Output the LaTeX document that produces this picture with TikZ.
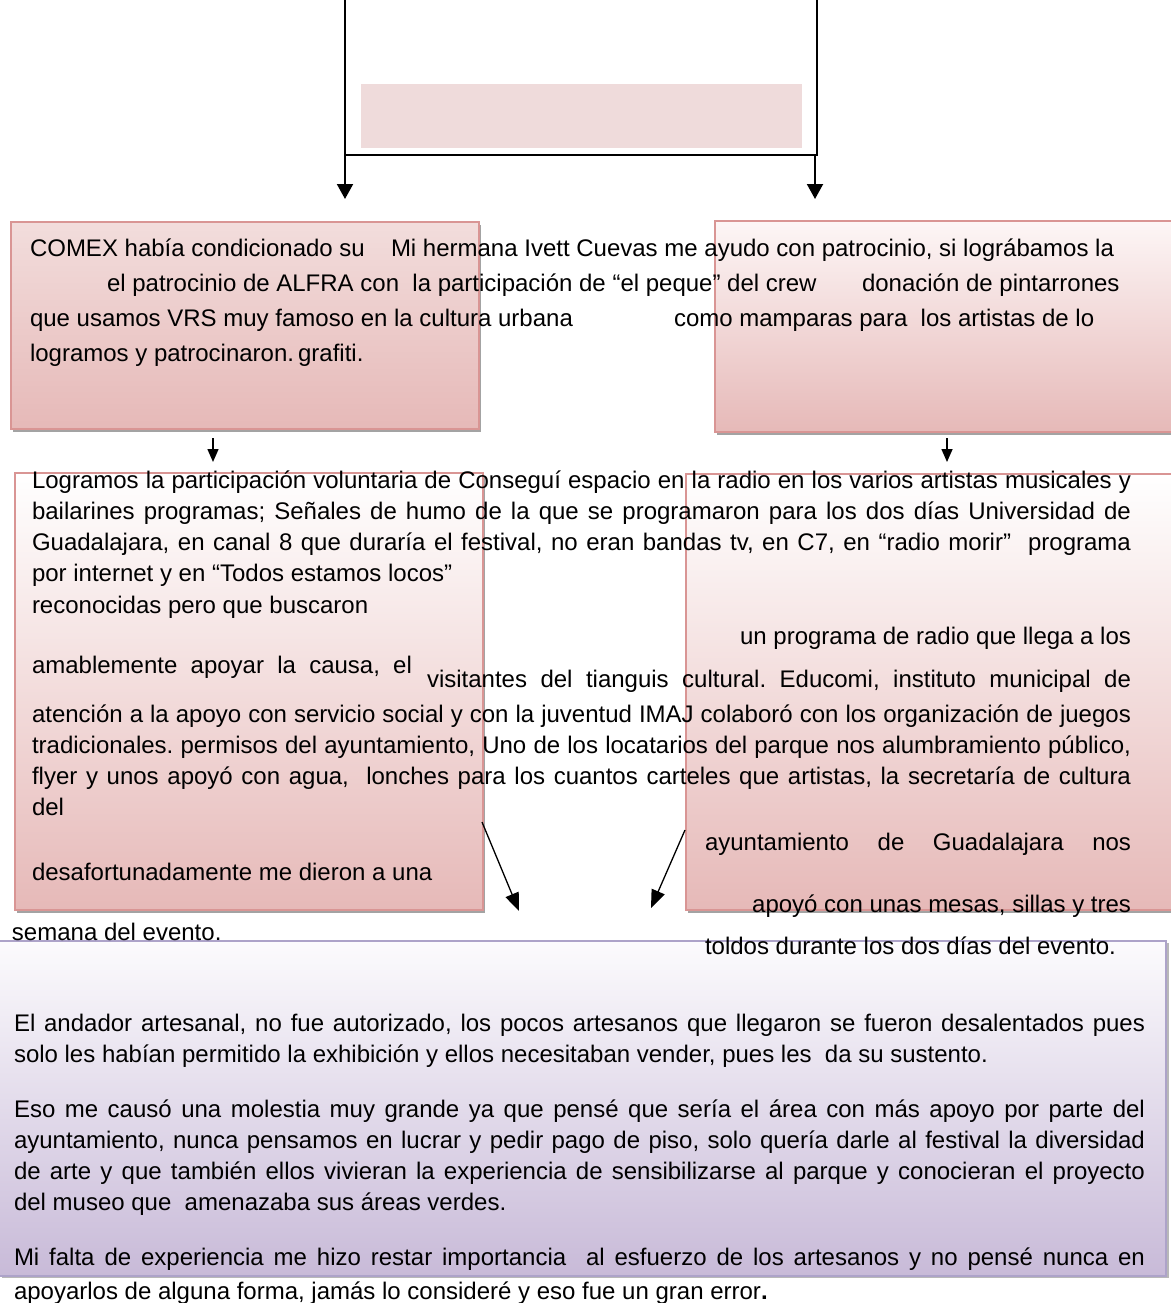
\documentclass[tikz,border=0pt]{standalone}
\usepackage{fontspec}
\setmainfont{Liberation Sans}
\usetikzlibrary{arrows.meta,shadows}
\definecolor{pinkborder}{HTML}{D99594}
\definecolor{pinktop}{HTML}{F2DDDC}
\definecolor{pinkbot}{HTML}{E6B9B8}
\definecolor{pinkpale}{HTML}{FDF6F6}
\definecolor{lavtop}{HTML}{FCFBFD}
\definecolor{lavbot}{HTML}{C8BAD8}
\definecolor{lavborder}{HTML}{ADA3C9}
\definecolor{topfill}{HTML}{EFDBDB}
\frenchspacing
\tikzset{
  txt/.style={inner sep=0pt,outer sep=0pt,anchor=base west,font=\fontsize{24}{29}\selectfont},
  txtr/.style={txt,anchor=base east},
  pinkbox/.style={draw=pinkborder,line width=2pt,bottom color=pinkbot,
    drop shadow={shadow xshift=2pt,shadow yshift=-3pt,fill=black!45,opacity=0.8}},
  lavbox/.style={draw=lavborder,line width=2pt,top color=lavtop,bottom color=lavbot,
    drop shadow={shadow xshift=3pt,shadow yshift=-2pt,fill=black!35,opacity=0.8}},
  conn/.style={line width=2pt,-{Triangle[width=16pt,length=15pt]}},
  line/.style={line width=2pt},
  small/.style={line width=1.5pt,-{Triangle[width=11pt,length=13pt]}},
  diag/.style={line width=1.3pt,-{Triangle[width=14pt,length=18pt]}}
}
\newcommand{\jl}[2]{\makebox[#1][s]{#2}}
\begin{document}
\begin{tikzpicture}[x=1pt,y=-1pt]
\useasboundingbox (0,0) rectangle (1170,1303);
% top structure
\node[fill=topfill,minimum width=441pt,minimum height=64pt,inner sep=0pt,anchor=north west] (topbox) at (361,84) {};
\coordinate (lt) at (345,-2);
\coordinate (rt) at (817,-2);
\coordinate (rj) at (817,155);
\coordinate (lj) at (345,155);
\coordinate (la) at (345,199);
\coordinate (rs) at (815,155);
\coordinate (ra) at (815,199);
\draw[line] (rt) -- (rj) -- (lj);
\draw[conn] (lt) -- (la);
\draw[conn] (rs) -- (ra);
% upper boxes
\node[pinkbox,top color=pinktop,minimum width=468pt,minimum height=207pt,inner sep=0pt,anchor=north west] (ul) at (10,221) {};
\node[pinkbox,top color=pinkpale,minimum width=470pt,minimum height=211pt,inner sep=0pt,anchor=north west] (ur) at (714,220) {};
\coordinate (ula) at (213,438);
\coordinate (ulb) at (213,462);
\coordinate (ura) at (947,438);
\coordinate (urb) at (947,462);
\draw[small] (ula) -- (ulb);
\draw[small] (ura) -- (urb);
% middle boxes
\node[pinkbox,top color=white,minimum width=468pt,minimum height=437pt,inner sep=0pt,anchor=north west] (ml) at (14,472) {};
\node[pinkbox,top color=white,minimum width=490pt,minimum height=436pt,inner sep=0pt,anchor=north west] (mr) at (685,473) {};
\coordinate (d1a) at (482,822);
\coordinate (d1b) at (519,911);
\coordinate (d2a) at (685,830);
\coordinate (d2b) at (651,908);
\draw[diag] (d1a) -- (d1b);
\draw[diag] (d2a) -- (d2b);
% bottom box
\node[lavbox,minimum width=1167pt,minimum height=335pt,inner sep=0pt,anchor=north west] (bot) at (-2,940) {};
% upper text
\node[txt] (u1a) at (30,256) {COMEX había condicionado su};
\node[txt] (u1b) at (391,256) {Mi hermana Ivett Cuevas me ayudo con patrocinio, si lográbamos la};
\node[txt] (u2a) at (107,291) {el patrocinio de ALFRA con\ \ la participación de “el peque” del crew};
\node[txt] (u2b) at (862,291) {donación de pintarrones};
\node[txt] (u3a) at (30,326) {que usamos VRS muy famoso en la cultura urbana};
\node[txt] (u3b) at (674,326) {como mamparas para\ \ los artistas de lo};
\node[txt] (u4) at (30,361) {logramos y patrocinaron.\,grafiti.};
% middle text
\node[txt] (m1) at (32,488) {\jl{1099pt}{Logramos la participación voluntaria de Conseguí espacio en la radio en los varios artistas musicales y}};
\node[txt] (m2) at (32,519) {\jl{1099pt}{bailarines programas; Señales de humo de la que se programaron para los dos días Universidad de}};
\node[txt] (m3) at (32,550) {\jl{1099pt}{Guadalajara, en canal 8 que duraría el festival, no eran bandas tv, en C7, en “radio morir”\ \ programa}};
\node[txt] (m4) at (32,581) {por internet y en “Todos estamos locos”};
\node[txt] (m5) at (32,613) {reconocidas pero que buscaron};
\node[txtr] (m6) at (1131,644) {un programa de radio que llega a los};
\node[txt] (m7) at (32,673) {\jl{380pt}{amablemente apoyar la causa, el}};
\node[txt] (m8) at (427,687) {\jl{704pt}{visitantes del tianguis cultural. Educomi, instituto municipal de}};
\node[txt] (m9) at (32,722) {\jl{1099pt}{atención a la apoyo con servicio social y con la juventud IMAJ colaboró con los organización de juegos}};
\node[txt] (m10) at (32,753) {\jl{1099pt}{tradicionales. permisos del ayuntamiento, Uno de los locatarios del parque nos alumbramiento público,}};
\node[txt] (m11) at (32,784) {\jl{1099pt}{flyer y unos apoyó con agua,\ \ lonches para los cuantos carteles que artistas, la secretaría de cultura}};
\node[txt] (m12) at (32,815) {del};
\node[txt] (m13) at (705,850) {\jl{426pt}{ayuntamiento de Guadalajara nos}};
\node[txt] (m14) at (32,880) {desafortunadamente me dieron a una};
\node[txtr] (m15) at (1131,912) {apoyó con unas mesas, sillas y tres};
\node[txt] (m16) at (12,940) {semana del evento.};
\node[txt] (m17) at (705,954) {toldos durante los dos días del evento.};
% bottom text
\node[txt] (b1) at (14,1031) {\jl{1131pt}{El andador artesanal, no fue autorizado, los pocos artesanos que llegaron se fueron desalentados pues}};
\node[txt] (b2) at (14,1062) {solo les habían permitido la exhibición y ellos necesitaban vender, pues les\ \ da su sustento.};
\node[txt] (b3) at (14,1117) {\jl{1131pt}{Eso me causó una molestia muy grande ya que pensé que sería el área con más apoyo por parte del}};
\node[txt] (b4) at (14,1148) {\jl{1131pt}{ayuntamiento, nunca pensamos en lucrar y pedir pago de piso, solo quería darle al festival la diversidad}};
\node[txt] (b5) at (14,1179) {\jl{1131pt}{de arte y que también ellos vivieran la experiencia de sensibilizarse al parque y conocieran el proyecto}};
\node[txt] (b6) at (14,1210) {del museo que\ \ amenazaba sus áreas verdes.};
\node[txt] (b7) at (14,1265) {\jl{1131pt}{Mi falta de experiencia me hizo restar importancia\ \ al esfuerzo de los artesanos y no pensé nunca en}};
\node[txt] (b8) at (14,1299) {apoyarlos de alguna forma, jamás lo consideré y eso fue un gran error\textbf{.}};
\end{tikzpicture}
\end{document}
